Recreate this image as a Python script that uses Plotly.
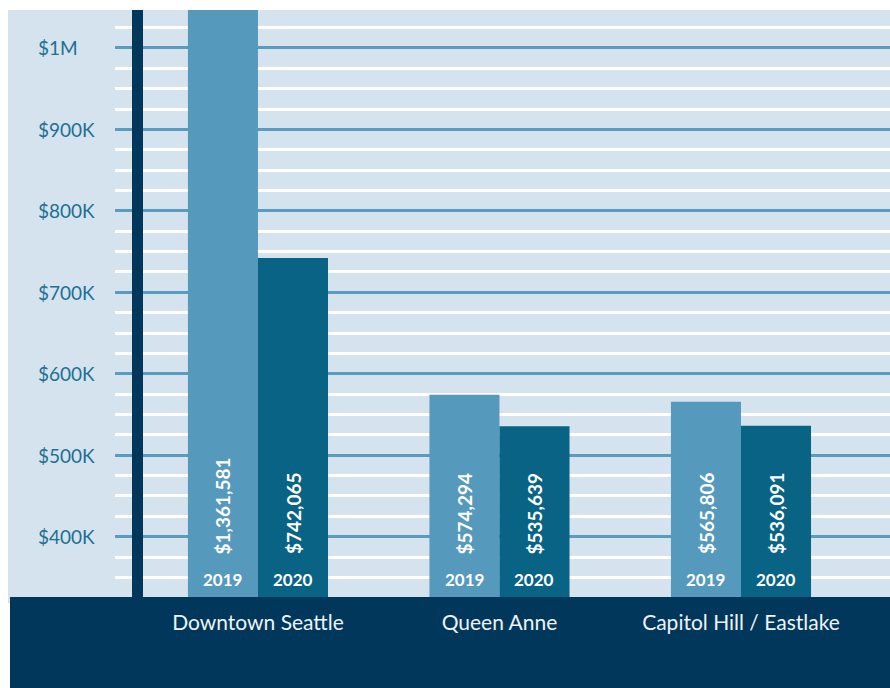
import plotly.graph_objects as go

# Median sale price by neighbourhood
neighborhoods = ["Downtown Seattle", "Queen Anne", "Capitol Hill / Eastlake"]
years = ["2019", "2020"]
price_2019 = [1361581, 574294, 565806]
price_2020 = [742065, 535639, 536091]

tick_values = [400000, 500000, 600000, 700000, 800000, 900000, 1000000]
tick_labels = ["$400K", "$500K", "$600K", "$700K", "$800K", "$900K", "$1M"]

BG = "#d5e3ee"
DARK = "#00375a"
C2019 = "#5599bd"
C2020 = "#086385"
TICK_COLOR = "#1d6f94"
FONT = "Lato"

W, H = 890, 688
L, R, T, B = 115, 0, 10, 91
pw = W - L - R
ph = H - T - B


def px_x(p):
    return (p - L) / pw


def px_y(p):
    return (H - B - p) / ph


fig = go.Figure()
series = [(years[0], price_2019, C2019), (years[1], price_2020, C2020)]
for name, vals, col in series:
    fig.add_trace(go.Bar(
        x=neighborhoods, y=vals, name=name, marker=dict(color=col, line=dict(width=0)),
        hoverinfo="skip",
    ))

annotations = []
# y tick labels, left aligned in the side panel
for v, t in zip(tick_values, tick_labels):
    annotations.append(dict(
        x=px_x(36), xref="paper", y=v, yref="y", text=t, showarrow=False,
        xanchor="left", yanchor="middle",
        font=dict(family=FONT, size=19, color=TICK_COLOR),
    ))

# value and year labels inside each bar
for (name, vals, col), shift in zip(series, (-35, 35)):
    for cat, v in zip(neighborhoods, vals):
        annotations.append(dict(
            x=cat, xref="x", xshift=shift, y=px_y(556), yref="paper",
            text=f"${v:,}", textangle=-90, showarrow=False,
            xanchor="center", yanchor="bottom",
            font=dict(family=FONT, size=19, color="white", weight="bold"),
        ))
        annotations.append(dict(
            x=cat, xref="x", xshift=shift, y=px_y(579), yref="paper",
            text=name, showarrow=False, xanchor="center", yanchor="middle",
            font=dict(family=FONT, size=17, color="white", weight="bold"),
        ))

shapes = [
    # light side panel holding the y labels
    dict(type="rect", xref="paper", yref="paper", x0=px_x(8), x1=0,
         y0=px_y(603), y1=1, fillcolor=BG, line=dict(width=0), layer="below"),
    # dark footer band behind category labels
    dict(type="rect", xref="paper", yref="paper", x0=px_x(10), x1=1,
         y0=px_y(H), y1=0, fillcolor=DARK, line=dict(width=0), layer="below"),
    # dark vertical rule
    dict(type="rect", xref="paper", yref="paper", x0=px_x(132), x1=px_x(143),
         y0=0, y1=1, fillcolor=DARK, line=dict(width=0), layer="above"),
]

fig.update_layout(
    width=W, height=H,
    margin=dict(l=L, r=R, t=T, b=B, pad=0),
    paper_bgcolor="white", plot_bgcolor=BG,
    barmode="group", bargap=0.42, bargroupgap=0,
    showlegend=False,
    annotations=annotations, shapes=shapes,
    xaxis=dict(
        type="category", range=[-0.592, 2.617], showgrid=False, zeroline=False,
        showline=False, ticks="", ticklabelstandoff=11,
        tickfont=dict(family=FONT, size=21, color="#eef3f7"),
        fixedrange=True,
    ),
    yaxis=dict(
        range=[326000, 1046600], tick0=0, dtick=100000,
        showticklabels=False, ticks="", zeroline=False, showline=False,
        showgrid=True, gridcolor="#5a9bc0", gridwidth=3,
        minor=dict(dtick=25000, tick0=0, showgrid=True, gridcolor="white",
                   gridwidth=2.5, ticks=""),
        fixedrange=True,
    ),
)

fig.write_html("out.html")
